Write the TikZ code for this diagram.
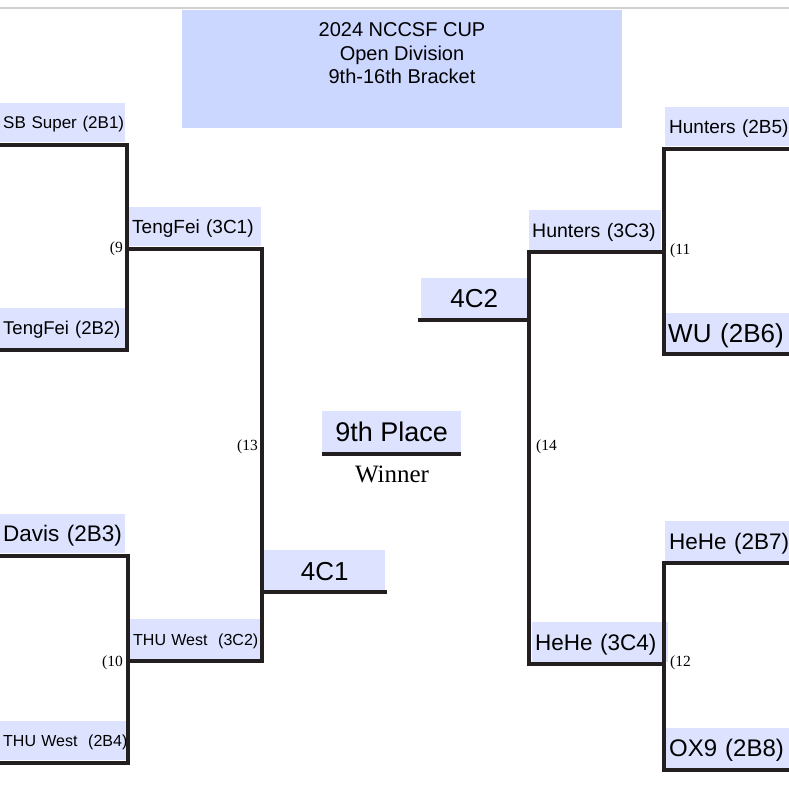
\documentclass[tikz,border=0pt]{standalone}
\usepackage{fontspec}
\setmainfont{Liberation Sans}
\newfontfamily\seriffont{Liberation Serif}
\definecolor{titlefill}{RGB}{204,215,255}
\definecolor{boxfill}{RGB}{221,227,255}
\definecolor{brk}{RGB}{35,31,32}
\definecolor{topline}{RGB}{208,208,208}
\begin{document}
\begin{tikzpicture}[x=1pt,y=-1pt,
  lbl/.style={fill=boxfill, inner xsep=3pt, inner ysep=0pt, anchor=north west, align=left, text=black, text depth=0pt},
  ctr/.style={fill=boxfill, inner sep=0pt, anchor=north west, align=center, text=black},
  br/.style={draw=brk, line width=4pt, line join=miter, line cap=rect},
  num/.style={font=\seriffont\fontsize{15.5}{17}\selectfont, inner sep=0pt}]
\useasboundingbox (0,0) rectangle (789,790);
\fill[white] (0,0) rectangle (789,790);
% top rule
\coordinate (tl) at (0,8);
\coordinate (tr) at (789,8);
\draw[topline, line width=2pt] (tl) -- (tr);
% title
\node[fill=titlefill, minimum width=440pt, minimum height=118pt, inner sep=0pt, anchor=north west] (title) at (182,10) {};
\node[align=center, font=\fontsize{20}{23.5}\selectfont, anchor=north] (titletext) at (402,19) {2024 NCCSF CUP\\Open Division\\9th-16th Bracket};

% ---------- left side ----------
\node[lbl, text width=119pt, minimum height=39pt, font=\fontsize{17}{20}\selectfont] (b1) at (0,103) {\mbox{SB Super (2B1)}};
\node[lbl, text width=119pt, minimum height=40pt, font=\fontsize{18.5}{21}\selectfont] (b2) at (0,308) {\mbox{TengFei (2B2)}};
\node[lbl, text width=126pt, minimum height=39pt, font=\fontsize{19}{21}\selectfont] (c1) at (129,207) {\mbox{TengFei (3C1)}};
\node[lbl, text width=119pt, minimum height=39pt, font=\fontsize{22.5}{25}\selectfont] (b3) at (0,514) {\mbox{Davis (2B3)}};
\node[lbl, text width=120pt, minimum height=39pt, font=\fontsize{16}{19}\selectfont] (b4) at (0,721) {\mbox{THU West\ \ (2B4)}};
\node[lbl, text width=126pt, minimum height=41pt, font=\fontsize{16}{19}\selectfont] (c2) at (130,619) {\mbox{THU West\ \ (3C2)}};
\node[ctr, minimum width=121pt, minimum height=42pt, font=\fontsize{26}{29}\selectfont] (d1) at (264,550) {4C1};

\coordinate (l1a) at (0,145);   \coordinate (l1b) at (127,145);
\coordinate (l1c) at (127,350); \coordinate (l1d) at (0,350);
\coordinate (l1m) at (127,249); \coordinate (l2a) at (262,249);
\coordinate (l2b) at (262,661); \coordinate (l3m) at (128,661);
\coordinate (l3a) at (0,556);   \coordinate (l3b) at (128,556);
\coordinate (l3c) at (128,763); \coordinate (l3d) at (0,763);
\coordinate (l4a) at (262,592); \coordinate (l4b) at (385,592);
\draw[br] (l1a) -- (l1b) -- (l1c) -- (l1d);
\draw[br] (l3a) -- (l3b) -- (l3c) -- (l3d);
\draw[br] (l1m) -- (l2a) -- (l2b) -- (l3m);
\draw[br] (l4a) -- (l4b);

\node[num, anchor=east] (n9) at (123,249) {(9};
\node[num, anchor=east] (n10) at (123,663) {(10};
\node[num, anchor=east] (n13) at (258,447) {(13};

% ---------- center ----------
\node[ctr, minimum width=139pt, minimum height=41pt, font=\fontsize{27}{30}\selectfont] (ninth) at (322,411) {9th Place};
\coordinate (w1) at (322,454); \coordinate (w2) at (461,454);
\draw[br, line cap=butt] (w1) -- (w2);
\node[font=\seriffont\fontsize{25}{28}\selectfont, inner sep=0pt] (winner) at (392,474) {Winner};

% ---------- right side ----------
\node[ctr, minimum width=106pt, minimum height=40pt, font=\fontsize{26}{29}\selectfont] (d2) at (421,278) {4C2};
\node[lbl, text width=126pt, minimum height=40pt, font=\fontsize{19.5}{22}\selectfont] (c3) at (529,210) {\mbox{Hunters (3C3)}};
\node[lbl, text width=130pt, minimum height=40pt, font=\fontsize{22.5}{25}\selectfont] (c4) at (532,622) {\mbox{HeHe (3C4)}};
\node[lbl, text width=130pt, minimum height=39pt, inner xsep=4pt, font=\fontsize{19}{22}\selectfont] (b5) at (665,107) {\mbox{Hunters (2B5)}};
\node[lbl, text width=130pt, minimum height=39pt, inner xsep=4pt, font=\fontsize{26}{29}\selectfont] (b6) at (664,313) {\mbox{WU (2B6)}};
\node[lbl, text width=130pt, minimum height=40pt, inner xsep=4pt, font=\fontsize{22.5}{25}\selectfont] (b7) at (665,521) {\mbox{HeHe (2B7)}};
\node[lbl, text width=130pt, minimum height=40pt, inner xsep=4pt, font=\fontsize{24}{27}\selectfont] (b8) at (665,728) {\mbox{OX9 (2B8)}};

\coordinate (r4a) at (420,320); \coordinate (r4b) at (529,320);
\coordinate (r2a) at (529,252); \coordinate (r2b) at (529,664);
\coordinate (r2m) at (664,252); \coordinate (r3m) at (664,664);
\coordinate (r1a) at (789,149); \coordinate (r1b) at (664,149);
\coordinate (r1c) at (664,354); \coordinate (r1d) at (789,354);
\coordinate (r3a) at (789,563); \coordinate (r3b) at (664,563);
\coordinate (r3c) at (664,770); \coordinate (r3d) at (789,770);
\draw[br] (r1a) -- (r1b) -- (r1c) -- (r1d);
\draw[br] (r3a) -- (r3b) -- (r3c) -- (r3d);
\draw[br] (r2m) -- (r2a) -- (r2b) -- (r3m);
\draw[br] (r4a) -- (r4b);

\node[num, anchor=west] (n11) at (670,251) {(11};
\node[num, anchor=west] (n12) at (670,663) {(12};
\node[num, anchor=west] (n14) at (536,447) {(14};
\end{tikzpicture}
\end{document}
